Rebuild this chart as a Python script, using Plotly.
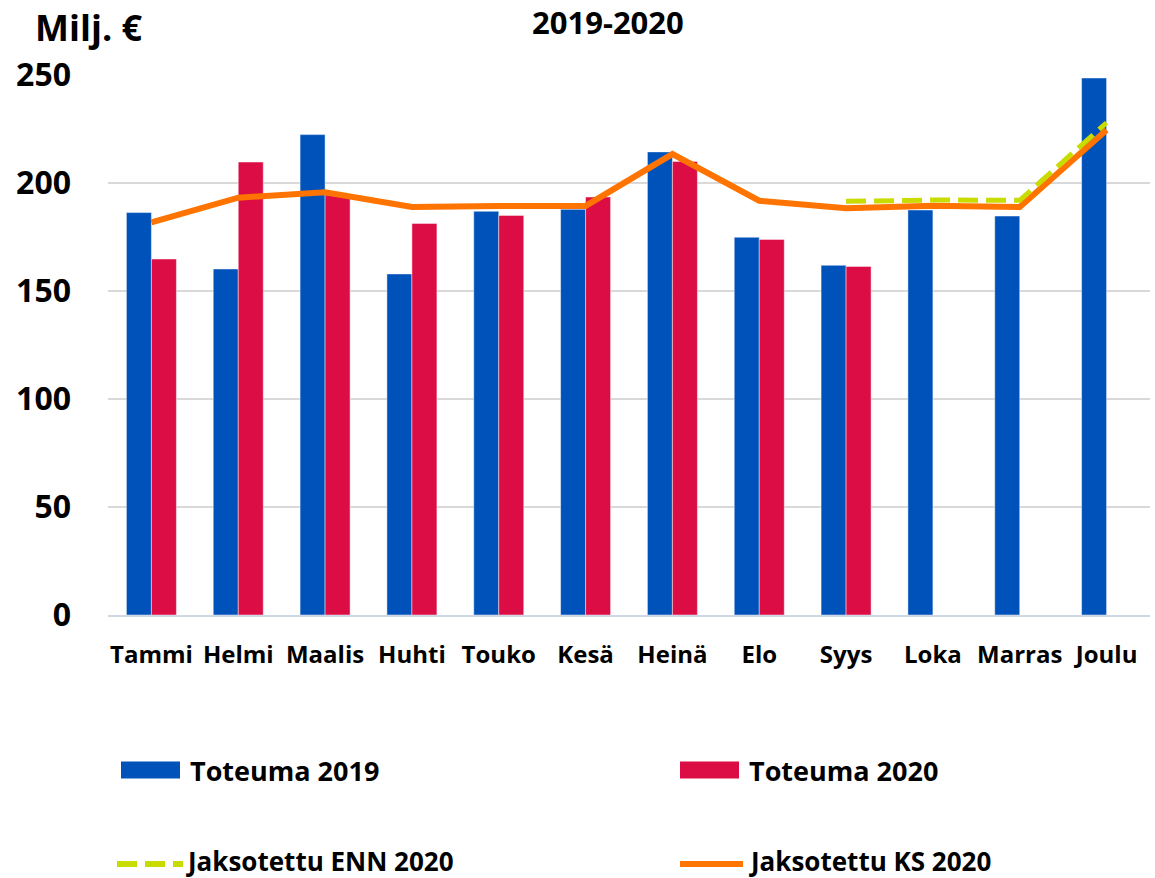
import plotly.graph_objects as go

months = ["Tammi", "Helmi", "Maalis", "Huhti", "Touko", "Kesä", "Heinä", "Elo", "Syys", "Loka", "Marras", "Joulu"]
toteuma_2019 = [186.3, 160.2, 222.4, 157.9, 186.9, 187.8, 214.4, 174.9, 161.9, 187.5, 184.7, 248.6]
toteuma_2020 = [164.8, 209.7, 194.4, 181.3, 185.0, 193.5, 210.0, 173.9, 161.4, None, None, None]
jaksotettu_enn_2020 = [None, None, None, None, None, None, None, None, 191.5, 192.1, 192.0, 227.9]
jaksotettu_ks_2020 = [181.8, 193.2, 195.7, 188.9, 189.4, 189.4, 213.4, 191.8, 188.3, 189.5, 188.9, 224.5]
y_ticks = [0, 50, 100, 150, 200, 250]

BLUE = "#0052BB"
RED = "#DC0D44"
GREEN = "#C8DC00"
ORANGE = "#FF7300"
FONT = "Open Sans"

# page body margin is removed by post_script, so figure pixels == screen pixels
W, H = 1155, 878
# desired positions of plot area: x 108..1150, y 75..615
L, T = 108, 75
R = W - 1150
B = H - 615
PW, PH = W - L - R, H - T - B

def px(sx):
    return (sx - L) / PW

def py(sy):
    return (H - B - sy) / PH

fig = go.Figure()
fig.add_trace(go.Bar(x=months, y=toteuma_2019, name="Toteuma 2019", marker=dict(color=BLUE, line=dict(color="rgba(255,255,255,0.45)", width=1))))
fig.add_trace(go.Bar(x=months, y=toteuma_2020, name="Toteuma 2020", marker=dict(color=RED, line=dict(color="rgba(255,255,255,0.45)", width=1))))
fig.add_trace(go.Scatter(x=months, y=jaksotettu_ks_2020, name="Jaksotettu KS 2020", mode="lines", line=dict(color=ORANGE, width=6)))
fig.add_trace(go.Scatter(x=months, y=jaksotettu_enn_2020, name="Jaksotettu ENN 2020", mode="lines", line=dict(color=GREEN, width=5, dash="20px,8px")))

fig.update_layout(
    width=W, height=H,
    margin=dict(l=L, r=R, t=T, b=B, autoexpand=False),
    paper_bgcolor="white", plot_bgcolor="white",
    barmode="group", bargap=0.424, bargroupgap=0,
    showlegend=False,
    font=dict(family=FONT, color="black"),
)
fig.update_yaxes(range=[0, 250], tickvals=y_ticks, showgrid=True, gridcolor="#D9D9D9", gridwidth=1.5,
                 zeroline=False, showline=False, ticks="", ticklabelstandoff=36,
                 tickfont=dict(family=FONT, size=32, color="black", weight="bold"))
fig.update_xaxes(showline=True, linecolor="#D0D7E5", linewidth=1.5, ticks="", ticklabelstandoff=17,
                 tickfont=dict(family=FONT, size=24, color="black", weight="bold"))

# Title and axis unit
fig.add_annotation(text="<b>2019-2020</b>", x=px(608), y=py(22), xref="paper", yref="paper",
                   showarrow=False, xanchor="center", yanchor="middle", font=dict(family=FONT, size=31, color="black"))
fig.add_annotation(text="<b>Milj. €</b>", x=px(33), y=py(27), xref="paper", yref="paper",
                   showarrow=False, xanchor="left", yanchor="middle", font=dict(family=FONT, size=36, color="black"))

# Legend (2 columns x 2 rows)
legend_items = [
    ("Toteuma 2019", "bar", BLUE, 121, 770),
    ("Toteuma 2020", "bar", RED, 680, 770),
    ("Jaksotettu ENN 2020", "dash", GREEN, 117, 861),
    ("Jaksotettu KS 2020", "line", ORANGE, 680, 861),
]
for name, kind, color, x0, yc in legend_items:
    if kind == "bar":
        fig.add_shape(type="rect", xref="paper", yref="paper", x0=px(x0), x1=px(x0 + 59), y0=py(yc - 8.5), y1=py(yc + 8.5),
                      fillcolor=color, line=dict(width=0))
    elif kind == "dash":
        fig.add_shape(type="line", xref="paper", yref="paper", x0=px(x0), x1=px(x0 + 66), y0=py(yc + 3), y1=py(yc + 3),
                      line=dict(color=color, width=6, dash="20px,8px"))
    else:
        fig.add_shape(type="line", xref="paper", yref="paper", x0=px(x0), x1=px(x0 + 63), y0=py(yc + 3), y1=py(yc + 3),
                      line=dict(color=color, width=6))
    size = 27 if kind == "bar" else 26
    fig.add_annotation(text=f"<b>{name}</b>", x=px(x0 + 67), y=py(yc), xref="paper", yref="paper",
                       showarrow=False, xanchor="left", yanchor="middle", font=dict(family=FONT, size=size, color="black"))

fig.write_html("out.html", config={"displayModeBar": False},
               post_script="document.body.style.margin='0px';document.body.style.overflow='hidden';")
